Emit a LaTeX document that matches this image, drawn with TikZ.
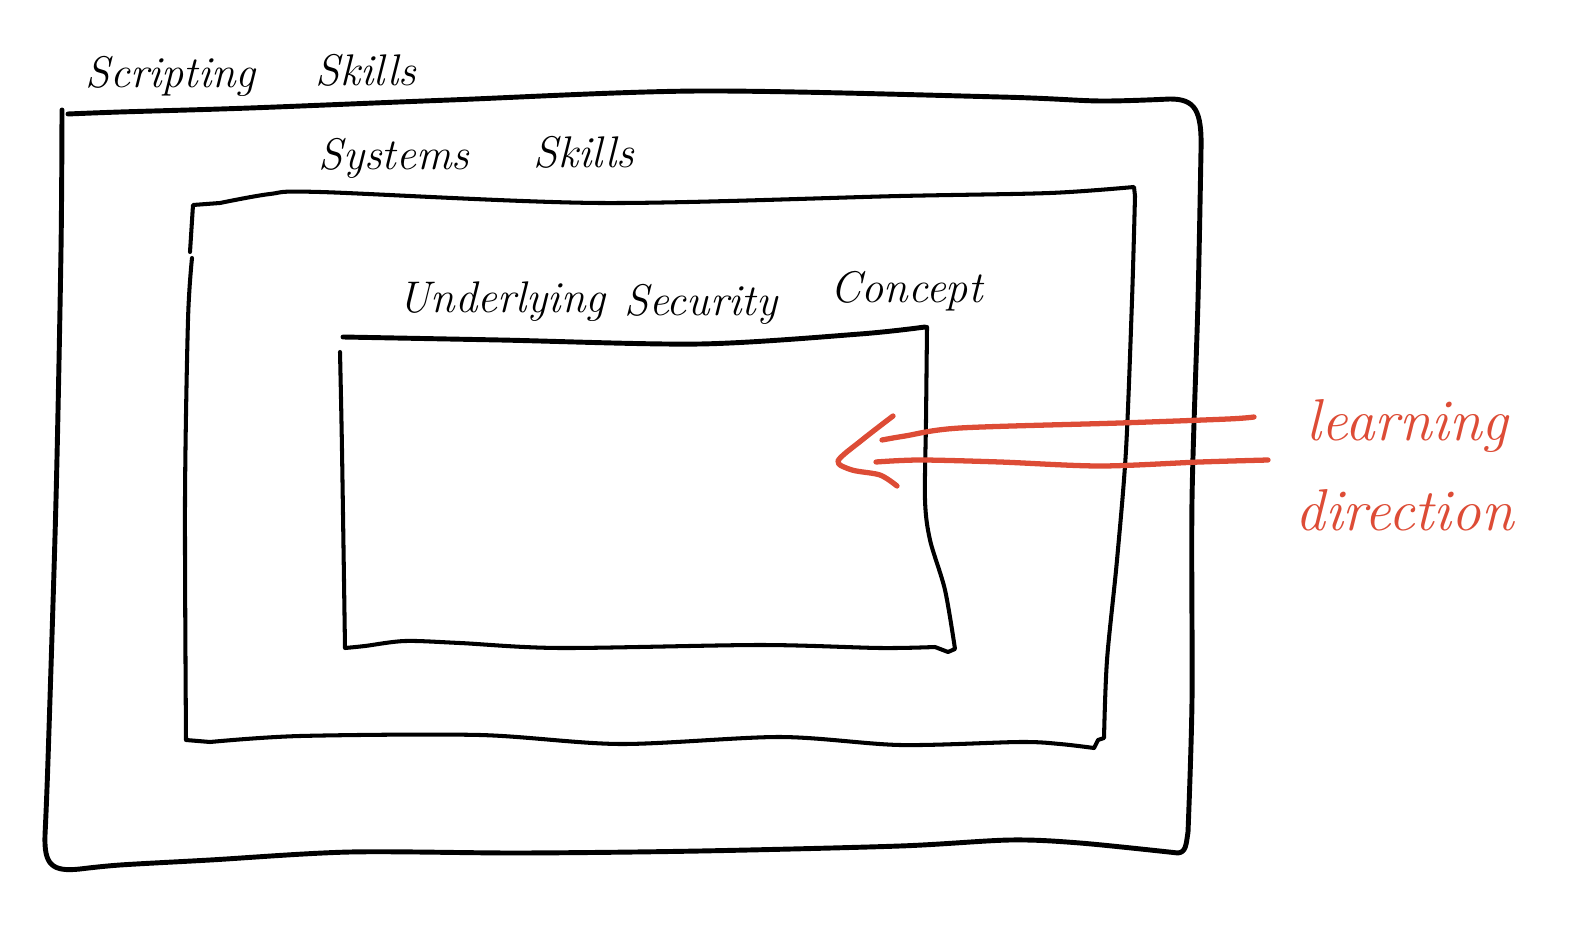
\documentclass[tikz,border=0pt]{standalone}
\usepackage{fontspec}
\definecolor{inkred}{RGB}{221,76,54}
\begin{document}
\begin{tikzpicture}[x=0.01cm,y=-0.01cm,
  pen/.style={line width=1.4pt,line cap=round,line join=round},
  thinpen/.style={line width=1.15pt,line cap=round,line join=round},
  redpen/.style={draw=inkred,line width=1.5pt,line cap=round,line join=round},
  hand/.style={inner sep=0pt,anchor=base west,font=\fontsize{12.6}{13}\selectfont\itshape},
  redhand/.style={inner sep=0pt,anchor=base west,text=inkred,font=\fontsize{16.8}{17}\selectfont\itshape}]
\useasboundingbox (0,0) rectangle (1576,946);

% outer frame
\draw[pen] plot[smooth,tension=0.5] coordinates {(62,110) (61,250) (56,500) (48,760) (45,835)}
  .. controls (44,865) and (52,872) .. (80,869)
  plot[smooth,tension=0.5] coordinates {(80,869) (120,865) (210,860) (350,852) (520,853) (700,851) (900,846) (1010,840) (1080,843) (1178,853)}
  .. controls (1186,852) and (1186,845) .. (1188,832)
  plot[smooth,tension=0.5] coordinates {(1188,832) (1192,700) (1192,500) (1198,300) (1201,150)}
  .. controls (1202,110) and (1195,99) .. (1170,99)
  plot[smooth,tension=0.5] coordinates {(1170,99) (1100,101) (1000,97) (700,91) (450,100) (250,108) (120,112) (68,114)};

% middle frame
\draw[thinpen] plot[smooth,tension=0.5] coordinates {(190,252) (193,205)}
  -- (220,203)
  plot[smooth,tension=0.5] coordinates {(220,203) (270,194) (320,192) (600,203) (900,196) (1050,193) (1134,187)}
  -- (1135,196)
  plot[smooth,tension=0.5] coordinates {(1135,196) (1132,300) (1126,450) (1117,560) (1107,660) (1104,738)}
  -- (1098,740) -- (1094,748)
  plot[smooth,tension=0.5] coordinates {(1094,748) (1060,744) (1020,742) (900,745) (780,737) (620,744) (480,735) (300,736) (210,742)}
  -- (186,740)
  plot[smooth,tension=0.5] coordinates {(186,740) (185,500) (188,320) (192,258)};

% inner frame
\draw[pen] plot[smooth,tension=0.5] coordinates {(343,337) (500,340) (700,344) (860,334) (925,327)};
\draw[thinpen] plot[smooth,tension=0.5] coordinates {(927,327) (926,420) (925,500) (930,540) (945,590) (955,649)}
  -- (948,652) -- (935,647)
  plot[smooth,tension=0.5] coordinates {(935,647) (880,648) (760,645) (560,648) (460,643) (405,641) (365,646) (345,648)}
  plot[smooth,tension=0.5] coordinates {(345,648) (342,450) (340,352)};

% labels
\node[hand] (scr)  at (85,88)  {Scripting};
\node[hand] (scrs) at (315,86) {Skills};
\node[hand] (sys)  at (318,170) {Systems};
\node[hand] (syss) at (533,168) {Skills};
\node[hand] (und)  at (398,313) {Underlying};
\node[hand] (sec)  at (624,316) {Security};
\node[hand] (con)  at (830,303) {Concept};

% learning direction arrow
\draw[redpen] plot[smooth,tension=0.5] coordinates {(1254,417) (1228,419) (1120,423) (960,428) (905,436) (882,440)};
\draw[redpen] plot[smooth,tension=0.5] coordinates {(1268,460) (1200,462) (1100,466) (1000,462) (920,460) (876,462)};
\draw[redpen] plot[smooth,tension=0.5] coordinates {(893,416) (862,440) (838,461) (852,470) (880,475) (897,486)};

\node[redhand] (lrn) at (1306,440) {learning};
\node[redhand] (dir) at (1295,530) {direction};
\end{tikzpicture}
\end{document}
